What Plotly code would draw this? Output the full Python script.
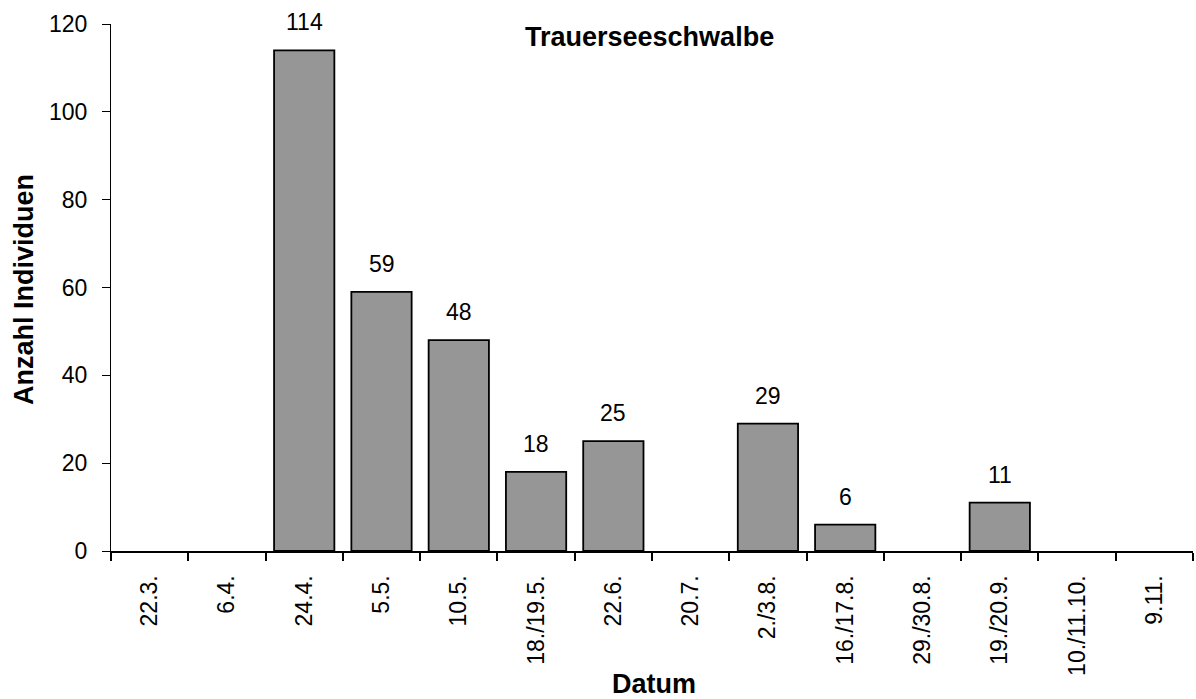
import plotly.graph_objects as go

categories = ["22.3.", "6.4.", "24.4.", "5.5.", "10.5.", "18./19.5.", "22.6.", "20.7.",
              "2./3.8.", "16./17.8.", "29./30.8.", "19./20.9.", "10./11.10.", "9.11."]
values = [0, 0, 114, 59, 48, 18, 25, 0, 29, 6, 0, 11, 0, 0]
y_ticks = [0, 20, 40, 60, 80, 100, 120]

title_text = "Trauerseeschwalbe"
x_title = "Datum"
y_title = "Anzahl Individuen"

FONT = "Liberation Sans, Arial, sans-serif"
W, H = 1196, 699
ML, MR, MT, MB = 111, 3, 24, 148
PW, PH = W - ML - MR, H - MT - MB


def px_x(px):
    return (px - ML) / PW


def px_y(py):
    return (H - MB - py) / PH


fig = go.Figure()
fig.add_trace(go.Bar(
    x=categories, y=values,
    marker=dict(color="#969696",
                line=dict(color="black", width=[0 if v == 0 else 1.8 for v in values])),
    width=0.78,
    hoverinfo="x+y",
))

annotations = []
for c, v in zip(categories, values):
    if v > 0:
        annotations.append(dict(x=c, y=v, xref="x", yref="y", text=str(v),
                                showarrow=False, yanchor="bottom", yshift=13,
                                font=dict(family=FONT, size=23, color="black")))

annotations += [
    dict(text="<b>" + title_text + "</b>", x=px_x(649.5), y=px_y(37),
         xref="paper", yref="paper", xanchor="center", yanchor="middle",
         showarrow=False, font=dict(family=FONT, size=27, color="black")),
    dict(text="<b>" + y_title + "</b>", x=px_x(24), y=px_y(290), textangle=-90,
         xref="paper", yref="paper", xanchor="center", yanchor="middle",
         showarrow=False, font=dict(family=FONT, size=27, color="black")),
    dict(text="<b>" + x_title + "</b>", x=px_x(654), y=px_y(684),
         xref="paper", yref="paper", xanchor="center", yanchor="middle",
         showarrow=False, font=dict(family=FONT, size=27, color="black")),
]

fig.update_layout(
    width=W, height=H,
    margin=dict(l=ML, r=MR, t=MT, b=MB, pad=0),
    plot_bgcolor="white", paper_bgcolor="white",
    showlegend=False,
    font=dict(family=FONT, size=23, color="black"),
    xaxis=dict(
        type="category", tickangle=-90, tickson="boundaries",
        ticks="outside", ticklen=8, tickwidth=2, tickcolor="black",
        showline=True, linecolor="black", linewidth=2.2,
        showgrid=False, zeroline=False, automargin=False,
        tickfont=dict(family=FONT, size=23),
        ticklabelstandoff=13,
        range=[-0.5, len(categories) - 0.5],
    ),
    yaxis=dict(
        range=[0, 120], tickvals=y_ticks,
        ticks="outside", ticklen=8, tickwidth=1, tickcolor="black",
        showline=True, linecolor="black", linewidth=1.2,
        showgrid=False, zeroline=False, automargin=False,
        tickfont=dict(family=FONT, size=23),
        ticklabelstandoff=10,
    ),
    annotations=annotations,
)

fig.write_html("out.html", config={"displayModeBar": False},
               post_script="document.body.style.margin='0';document.body.style.padding='0';")
